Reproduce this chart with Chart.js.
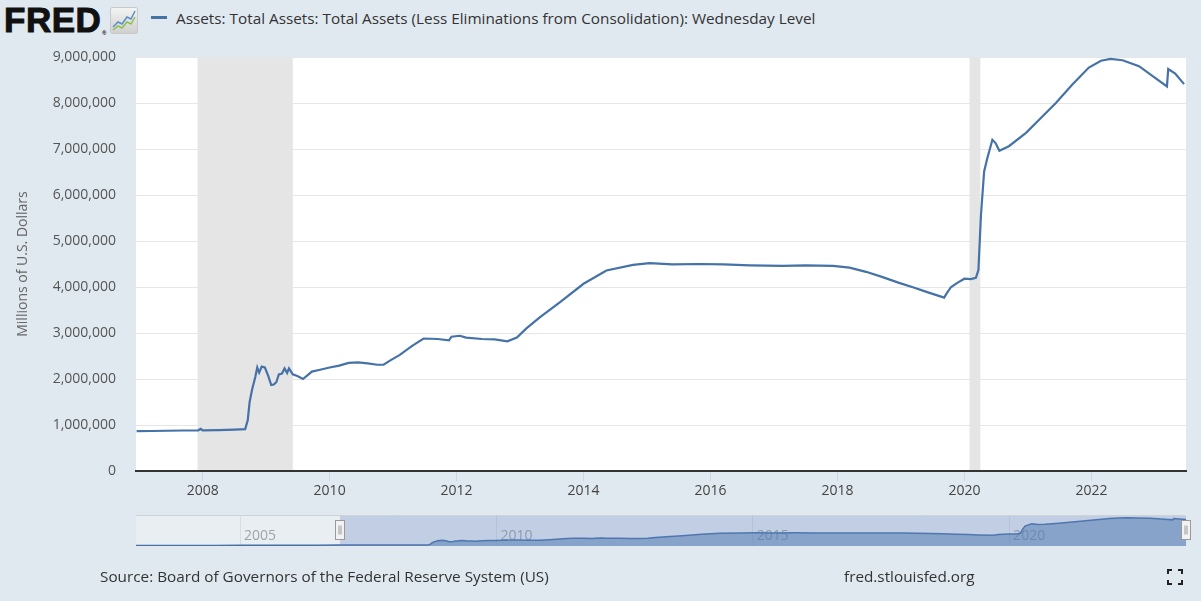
<!DOCTYPE html>
<html>
<head>
<meta charset="utf-8">
<script src="https://cdn.jsdelivr.net/npm/chart.js@4.4.1/dist/chart.umd.min.js"></script>
<style>
  html, body { margin: 0; padding: 0; }
  body { width: 1201px; height: 601px; background: #e1e9f0; position: relative; overflow: hidden; font-family: 'Open Sans', sans-serif; }
  #main { position: absolute; left: 0; top: 0; }
  #nav { position: absolute; left: 136px; top: 515px; }
  .logo { position: absolute; left: 4px; top: 0px; font-family: 'Liberation Sans', Arial, sans-serif; font-weight: 900; font-size: 35px; letter-spacing: 0.5px; color: #111; -webkit-text-stroke: 1px #111; }
  .logo sup { font-size: 6px; position: absolute; left: 98px; top: 30px; -webkit-text-stroke: 0; }
  .icon { position: absolute; left: 110px; top: 7px; }
  .legend { position: absolute; left: 151px; top: 8px; font-size: 15.3px; color: #333; white-space: nowrap; }
  .legend .swatch { display: inline-block; width: 16px; height: 3px; background: #4572a7; vertical-align: middle; margin-right: 9px; position: relative; top: -2px; }
  .source { position: absolute; left: 100px; top: 566px; font-size: 15.3px; color: #333; }
  .site { position: absolute; left: 844px; top: 566px; font-size: 15.3px; color: #333; }
  .fs { position: absolute; left: 1167px; top: 569px; }
</style>
</head>
<body>
<div class="logo">FRED<sup>®</sup></div>
<svg class="icon" width="28" height="27" viewBox="0 0 28 27">
  <defs><linearGradient id="g" x1="0" y1="0" x2="0" y2="1"><stop offset="0" stop-color="#f4f4f4"/><stop offset="1" stop-color="#cfcfcf"/></linearGradient></defs>
  <rect x="0.5" y="0.5" width="27" height="26" rx="2" fill="url(#g)" stroke="#c8c8c8"/>
  <polyline points="3,20 8,15 12,17 17,10 21,12 25,4" fill="none" stroke="#5b8fc9" stroke-width="1.5"/>
  <polyline points="3,23 8,19 12,21 17,15 21,17 25,10" fill="none" stroke="#8cc152" stroke-width="1.5"/>
</svg>
<div class="legend"><span class="swatch"></span>Assets: Total Assets: Total Assets (Less Eliminations from Consolidation): Wednesday Level</div>
<canvas id="main" width="1201" height="601"></canvas>
<canvas id="nav" width="1060" height="31"></canvas>
<div class="source">Source: Board of Governors of the Federal Reserve System (US)</div>
<div class="site">fred.stlouisfed.org</div>
<svg class="fs" width="16" height="16" viewBox="0 0 16 16" fill="none" stroke="#222" stroke-width="2">
  <polyline points="1,5 1,1 5,1"/><polyline points="11,1 15,1 15,5"/><polyline points="15,11 15,15 11,15"/><polyline points="5,15 1,15 1,11"/>
</svg>
<script>
// Weekly level (decimal years, millions of dollars)
const dates = [2006.96, 2007.2, 2007.45, 2007.7, 2007.93, 2007.97, 2008.0, 2008.25, 2008.5, 2008.67,
  2008.71, 2008.74, 2008.78, 2008.83, 2008.86, 2008.89, 2008.93, 2008.98, 2009.03, 2009.08,
  2009.12, 2009.16, 2009.2, 2009.25, 2009.29, 2009.33, 2009.36, 2009.42, 2009.5, 2009.58,
  2009.65, 2009.72, 2009.85, 2010.0, 2010.15, 2010.3, 2010.45, 2010.6, 2010.75, 2010.85,
  2010.95, 2011.1, 2011.3, 2011.48, 2011.7, 2011.88, 2011.92, 2012.05, 2012.15, 2012.4,
  2012.6, 2012.8, 2012.95, 2013.1, 2013.31, 2013.63, 2014.0, 2014.36, 2014.78, 2015.04,
  2015.4, 2015.83, 2016.2, 2016.62, 2017.14, 2017.5, 2017.93, 2018.19, 2018.45, 2018.7,
  2018.97, 2019.2, 2019.39, 2019.68, 2019.72, 2019.79, 2019.9, 2020.0, 2020.1, 2020.18,
  2020.22, 2020.26, 2020.31, 2020.36, 2020.44, 2020.49, 2020.55, 2020.7, 2020.97, 2021.18,
  2021.44, 2021.7, 2021.96, 2022.15, 2022.3, 2022.49, 2022.75, 2022.96, 2023.19, 2023.21,
  2023.32, 2023.46];
const totalAssets = [865000, 870000, 875000, 880000, 885000, 915000, 885000, 890000, 900000, 910000,
  1100000, 1500000, 1780000, 2050000, 2250000, 2140000, 2270000, 2250000, 2080000, 1870000,
  1880000, 1930000, 2100000, 2120000, 2230000, 2130000, 2230000, 2100000, 2060000, 2000000,
  2080000, 2160000, 2200000, 2250000, 2290000, 2350000, 2360000, 2340000, 2310000, 2310000,
  2400000, 2520000, 2720000, 2880000, 2870000, 2840000, 2920000, 2940000, 2900000, 2870000,
  2860000, 2820000, 2900000, 3100000, 3340000, 3670000, 4070000, 4360000, 4480000, 4520000,
  4490000, 4500000, 4490000, 4470000, 4460000, 4470000, 4460000, 4420000, 4330000, 4220000,
  4090000, 3990000, 3900000, 3770000, 3860000, 4000000, 4100000, 4180000, 4170000, 4200000,
  4370000, 5560000, 6510000, 6800000, 7200000, 7130000, 6960000, 7060000, 7350000, 7640000,
  8000000, 8400000, 8770000, 8920000, 8960000, 8930000, 8800000, 8590000, 8360000, 8740000,
  8640000, 8410000];

// Earlier history shown only in the navigator strip
const navEarlyDates = [2002.97, 2003.5, 2004.0, 2004.5, 2005.0, 2005.5, 2006.0, 2006.5];
const navEarlyAssets = [720000, 735000, 760000, 775000, 800000, 820000, 835000, 850000];

// Recessions (start, end)
const recessionStart = [2007.92, 2020.08];
const recessionEnd = [2009.42, 2020.25];

const yearTicks = [2008, 2010, 2012, 2014, 2016, 2018, 2020, 2022];
const navTicks = [2005, 2010, 2015, 2020];
const navRange = [2006.95, 2023.45];

const font = 'Open Sans';

const plotBg = {
  id: 'plotBg',
  beforeDraw(chart) {
    const { ctx, chartArea: a } = chart;
    ctx.save();
    ctx.fillStyle = '#ffffff';
    ctx.fillRect(a.left, a.top, a.right - a.left, a.bottom - a.top);
    ctx.restore();
  }
};

const recessionBands = {
  id: 'recessionBands',
  beforeDatasetsDraw(chart) {
    const { ctx, chartArea: a, scales: { x } } = chart;
    ctx.save();
    ctx.fillStyle = '#e5e5e5';
    recessionStart.forEach((s, i) => {
      const x0 = x.getPixelForValue(s);
      const x1 = x.getPixelForValue(recessionEnd[i]);
      ctx.fillRect(x0, a.top, x1 - x0, a.bottom - a.top - 1);
    });
    ctx.restore();
  }
};

new Chart(document.getElementById('main'), {
  type: 'line',
  data: {
    datasets: [{
      data: dates.map((d, i) => ({ x: d, y: totalAssets[i] })),
      borderColor: '#4572a7',
      borderWidth: 2.2,
      pointRadius: 0,
      tension: 0
    }]
  },
  options: {
    responsive: false,
    animation: false,
    layout: { padding: { top: 57, right: 15, left: 0, bottom: 0 } },
    plugins: { legend: { display: false }, tooltip: { enabled: false } },
    scales: {
      x: {
        type: 'linear',
        min: 2006.95,
        max: 2023.49,
        afterBuildTicks: s => { s.ticks = yearTicks.map(v => ({ value: v })); },
        afterFit: s => { s.height = 130; },
        ticks: { color: '#444', font: { family: font, size: 14 }, padding: 2, maxRotation: 0, callback: v => String(v) },
        grid: { drawOnChartArea: false, tickColor: '#ccd6eb', tickLength: 10 },
        border: { color: '#333', width: 2 }
      },
      y: {
        min: 0,
        max: 9000000,
        afterFit: s => { s.width = 136; },
        ticks: { stepSize: 1000000, color: '#555', font: { family: font, size: 14 }, padding: 20, callback: v => v.toLocaleString('en-US') },
        grid: { color: '#e6e6e6', drawTicks: false },
        border: { display: false },
        title: { display: true, text: 'Millions of U.S. Dollars', color: '#666', font: { family: font, size: 14 }, padding: { top: 15, bottom: 0 } }
      }
    }
  },
  plugins: [plotBg, recessionBands]
});

// Navigator strip
const navDates = navEarlyDates.concat(dates);
const navAssets = navEarlyAssets.concat(totalAssets);

const navDecor = {
  id: 'navDecor',
  beforeDraw(chart) {
    const { ctx, chartArea: a } = chart;
    ctx.save();
    ctx.fillStyle = '#e9eef3';
    ctx.fillRect(a.left, a.top, a.right - a.left, a.bottom - a.top);
    ctx.restore();
  },
  beforeDatasetsDraw(chart) {
    const { ctx, chartArea: a, scales: { x } } = chart;
    ctx.save();
    ctx.fillStyle = '#a0a4a8';
    ctx.font = '14px ' + font;
    ctx.textBaseline = 'middle';
    navTicks.forEach(t => ctx.fillText(String(t), x.getPixelForValue(t) + 4, a.top + 21));
    ctx.restore();
  },
  afterDatasetsDraw(chart) {
    const { ctx, chartArea: a, scales: { x } } = chart;
    const x0 = x.getPixelForValue(navRange[0]);
    const x1 = x.getPixelForValue(navRange[1]);
    ctx.save();
    ctx.fillStyle = 'rgba(102,133,194,0.3)';
    ctx.fillRect(x0, a.top, x1 - x0, a.bottom - a.top);
    ctx.strokeStyle = '#cfd3d8';
    ctx.lineWidth = 1;
    ctx.beginPath();
    ctx.moveTo(a.left, a.top + 0.5);
    ctx.lineTo(a.right, a.top + 0.5);
    ctx.stroke();
    [x0, x1].forEach(px => {
      const hx = Math.round(px) - 4.5;
      const hy = a.top + 5.5;
      ctx.fillStyle = '#f2f2f2';
      ctx.strokeStyle = '#999';
      ctx.fillRect(hx, hy, 9, 19);
      ctx.strokeRect(hx, hy, 9, 19);
      ctx.beginPath();
      ctx.moveTo(hx + 3.5, hy + 5); ctx.lineTo(hx + 3.5, hy + 14);
      ctx.moveTo(hx + 5.5, hy + 5); ctx.lineTo(hx + 5.5, hy + 14);
      ctx.stroke();
    });
    ctx.restore();
  }
};

new Chart(document.getElementById('nav'), {
  type: 'line',
  data: {
    datasets: [{
      data: navDates.map((d, i) => ({ x: d, y: navAssets[i] })),
      borderColor: '#4572a7',
      borderWidth: 1.5,
      backgroundColor: 'rgba(69,114,167,0.5)',
      fill: 'start',
      pointRadius: 0,
      tension: 0
    }]
  },
  options: {
    responsive: false,
    animation: false,
    layout: { padding: { left: 0, right: 10, top: 0, bottom: 0 } },
    plugins: { legend: { display: false }, tooltip: { enabled: false } },
    scales: {
      x: {
        type: 'linear',
        min: 2002.97,
        max: 2023.45,
        afterBuildTicks: s => { s.ticks = navTicks.map(v => ({ value: v })); },
        afterFit: s => { s.height = 0; },
        ticks: { display: false },
        grid: { color: '#d8dde2', drawTicks: false },
        border: { display: false }
      },
      y: { display: false, min: 600000, max: 9800000 }
    }
  },
  plugins: [navDecor]
});
</script>
</body>
</html>
